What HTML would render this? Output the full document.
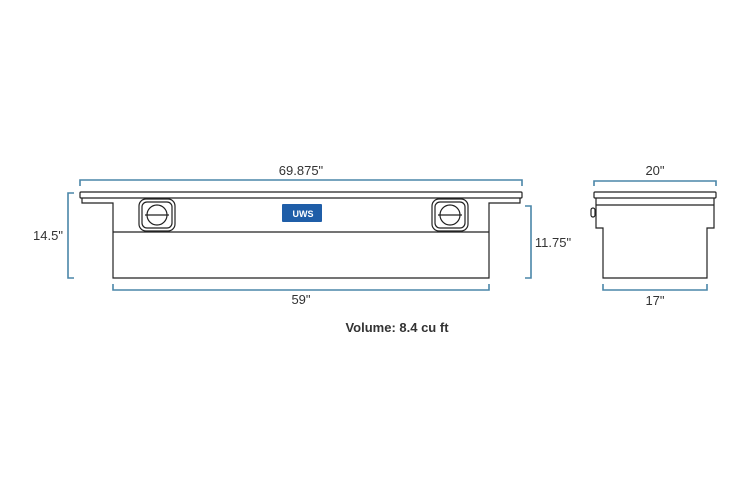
<!DOCTYPE html>
<html><head><style>
body{margin:0;background:#fff;}
svg{display:block}
text{font-family:"Liberation Sans",sans-serif;fill:#333;}
</style></head><body>
<svg width="750" height="499" viewBox="0 0 750 499">
<g fill="none" stroke="#4a86a8" stroke-width="1.6">
<path d="M80,186 V180 H522 V186"/>
<path d="M74,193 H68 V278 H74"/>
<path d="M525,206 H531 V278 H525"/>
<path d="M113,284 V290 H489 V284"/>
<path d="M594,186 V181 H716 V186"/>
<path d="M603,284 V290 H707 V284"/>
</g>
<g fill="none" stroke="#222" stroke-width="1.2">
<rect x="80" y="192" width="442" height="6" rx="1"/>
<path d="M82,198 V203 H113 V278 H489 V203 H520 V198"/>
<line x1="113" y1="232" x2="489" y2="232"/>
<rect x="594" y="192" width="122" height="6" rx="1"/>
<path d="M596,198 V228 H603 V278 H707 V228 H714 V198"/>
<line x1="596" y1="205" x2="714" y2="205"/>
<rect x="591" y="208" width="4" height="9" rx="2"/>
<rect x="139" y="199" width="36" height="32" rx="7"/>
<rect x="142" y="202" width="30" height="26" rx="5"/>
<circle cx="157" cy="215" r="10"/>
<line x1="145" y1="215" x2="169" y2="215"/>
<rect x="432" y="199" width="36" height="32" rx="7"/>
<rect x="435" y="202" width="30" height="26" rx="5"/>
<circle cx="450" cy="215" r="10"/>
<line x1="438" y1="215" x2="462" y2="215"/>
</g>
<rect x="282" y="204" width="40" height="18" rx="1" fill="#1f5ea8"/>
<text x="303" y="217" font-size="9" font-weight="bold" style="fill:#fff" text-anchor="middle">UWS</text>
<text x="301" y="175" font-size="13" text-anchor="middle">69.875"</text>
<text x="48" y="240" font-size="13" text-anchor="middle">14.5"</text>
<text x="553" y="247" font-size="13" text-anchor="middle">11.75"</text>
<text x="301" y="304" font-size="13" text-anchor="middle">59"</text>
<text x="655" y="175" font-size="13" text-anchor="middle">20"</text>
<text x="655" y="305" font-size="13" text-anchor="middle">17"</text>
<text x="397" y="332" font-size="13" font-weight="bold" text-anchor="middle">Volume: 8.4 cu ft</text>
</svg>
</body></html>
